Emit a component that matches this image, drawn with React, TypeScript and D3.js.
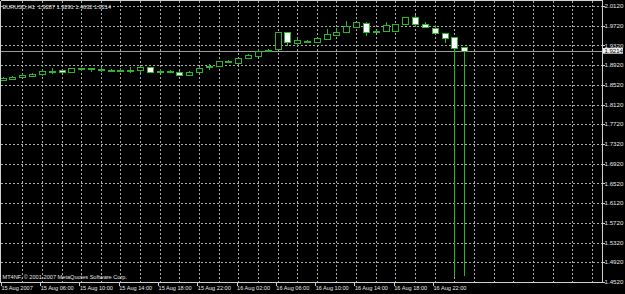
import React from "react";
import * as d3 from "d3";

const opens = [1.8609, 1.8630, 1.8670, 1.8701, 1.8731, 1.8792, 1.8812, 1.8782, 1.8843, 1.8847, 1.8843, 1.8806, 1.8812, 1.8816, 1.8822, 1.8873, 1.8798, 1.8798, 1.8782, 1.8711, 1.8782, 1.8883, 1.8904, 1.8985, 1.8964, 1.9056, 1.9106, 1.9218, 1.9238, 1.9583, 1.9370, 1.9415, 1.9380, 1.9451, 1.9533, 1.9583, 1.9695, 1.9782, 1.9608, 1.9614, 1.9620, 1.9750, 1.9892, 1.9750, 1.9681, 1.9567, 1.9486, 1.9287];
const highs = [1.8680, 1.8690, 1.8731, 1.8751, 1.8812, 1.8853, 1.8822, 1.8863, 1.8857, 1.8857, 1.8883, 1.8832, 1.8853, 1.8873, 1.8904, 1.8883, 1.8832, 1.8812, 1.8792, 1.8792, 1.8873, 1.8934, 1.9005, 1.9015, 1.9066, 1.9137, 1.9218, 1.9238, 1.9594, 1.9594, 1.9462, 1.9425, 1.9472, 1.9654, 1.9665, 1.9807, 1.9796, 1.9786, 1.9634, 1.9786, 1.9756, 1.9898, 1.9939, 1.9803, 1.9736, 1.9573, 1.9492, 1.9291];
const lows = [1.8599, 1.8609, 1.8660, 1.8670, 1.8701, 1.8741, 1.8772, 1.8772, 1.8792, 1.8782, 1.8782, 1.8792, 1.8772, 1.8761, 1.8761, 1.8751, 1.8761, 1.8761, 1.8701, 1.8701, 1.8761, 1.8822, 1.8893, 1.8964, 1.8924, 1.9046, 1.9096, 1.9188, 1.9228, 1.9299, 1.9299, 1.9401, 1.9370, 1.9441, 1.9522, 1.9573, 1.9685, 1.9502, 1.9583, 1.9604, 1.9614, 1.9746, 1.9689, 1.9685, 1.9543, 1.9370, 1.4625, 1.4632];
const closes = [1.8650, 1.8670, 1.8711, 1.8741, 1.8792, 1.8802, 1.8782, 1.8853, 1.8853, 1.8853, 1.8849, 1.8816, 1.8806, 1.8826, 1.8873, 1.8772, 1.8806, 1.8806, 1.8711, 1.8782, 1.8853, 1.8893, 1.8995, 1.8995, 1.9056, 1.9127, 1.9208, 1.9228, 1.9583, 1.9391, 1.9431, 1.9407, 1.9462, 1.9553, 1.9600, 1.9721, 1.9786, 1.9594, 1.9620, 1.9725, 1.9750, 1.9892, 1.9756, 1.9689, 1.9579, 1.9478, 1.9275, 1.9214];

const timeLabels = ["15 Aug 2007", "15 Aug 06:00", "15 Aug 10:00", "15 Aug 14:00", "15 Aug 18:00", "15 Aug 22:00", "16 Aug 02:00", "16 Aug 06:00", "16 Aug 10:00", "16 Aug 14:00", "16 Aug 18:00", "16 Aug 22:00"];
const timeLabelBars = [0, 4, 8, 12, 16, 20, 24, 28, 32, 36, 40, 44];
const priceTickLabels = ["1.4520", "1.4920", "1.5320", "1.5720", "1.6120", "1.6520", "1.6920", "1.7320", "1.7720", "1.8120", "1.8520", "1.8920", "1.9320", "1.9720", "2.0120"];
const headerText = "EURUSD,H1  1.9287 1.9291 1.4632 1.9214";
const copyrightText = "MT4NF, \u00a9 2001-2007 MetaQuotes Software Corp.";
const bidPrice = 1.9214;
const bidLabel = "1.9214";

const W = 625;
const H = 294;
const RIGHT = 602;
const BOTTOM = 282;

export default function App() {
  const x = d3.scaleLinear().domain([0, 60]).range([2.6, 2.6 + 60 * 9.82]);
  const y = d3.scaleLinear().domain([1.452, 2.012]).range([BOTTOM, 6]);
  const font = "'Liberation Sans', Arial, sans-serif";
  const txt = "#e6e6e6";
  const green = "#2cb52c";
  const gridColor = "#ababab";
  const vGrid = d3.range(2, 61, 2).filter((i) => x(i) < RIGHT - 2);
  const py = (v: number) => Math.round(y(v)) + 0.5;
  const px = (i: number) => Math.round(x(i)) + 0.5;

  return (
    <div style={{ position: "fixed", left: 0, top: 0 }}>
      <svg width={W} height={H} style={{ display: "block", background: "#000" }}>
        <rect x={0} y={0} width={W} height={H} fill="#000" />
        {priceTickLabels.map((t) => (
          <line key={"h" + t} x1={1} x2={RIGHT} y1={py(+t)} y2={py(+t)} stroke={gridColor} strokeDasharray="2,2" shapeRendering="crispEdges" />
        ))}
        {vGrid.map((i) => (
          <line key={"v" + i} x1={px(i)} x2={px(i)} y1={1} y2={BOTTOM} stroke={gridColor} strokeDasharray="2,2" shapeRendering="crispEdges" />
        ))}
        <line x1={1} x2={RIGHT} y1={py(bidPrice)} y2={py(bidPrice)} stroke="#9a9a9a" shapeRendering="crispEdges" />
        {opens.map((o, i) => {
          const c = closes[i];
          const cx = px(i);
          const bull = c >= o;
          const top = Math.round(y(Math.max(o, c)));
          const bot = Math.round(y(Math.min(o, c)));
          const h = Math.max(1, bot - top);
          return (
            <g key={"c" + i}>
              <line x1={cx} x2={cx} y1={y(highs[i])} y2={y(lows[i])} stroke={green} strokeWidth={1} shapeRendering="crispEdges" />
              <rect x={cx - 3} y={top + 0.5} width={6} height={h} fill={bull ? "#000" : "#fff"} stroke={green} strokeWidth={1} shapeRendering="crispEdges" />
            </g>
          );
        })}
        <line x1={0.5} x2={RIGHT + 0.5} y1={0.5} y2={0.5} stroke="#d0d0d0" shapeRendering="crispEdges" />
        <line x1={0.5} x2={0.5} y1={0.5} y2={BOTTOM + 0.5} stroke="#d0d0d0" shapeRendering="crispEdges" />
        <line x1={RIGHT + 0.5} x2={RIGHT + 0.5} y1={0.5} y2={BOTTOM + 0.5} stroke="#d0d0d0" shapeRendering="crispEdges" />
        <line x1={0.5} x2={RIGHT + 0.5} y1={BOTTOM + 0.5} y2={BOTTOM + 0.5} stroke="#d0d0d0" shapeRendering="crispEdges" />
        {priceTickLabels.map((t) => (
          <g key={"r" + t}>
            <line x1={RIGHT} x2={RIGHT + 3} y1={py(+t)} y2={py(+t)} stroke="#d0d0d0" shapeRendering="crispEdges" />
            <text x={RIGHT + 2.5} y={y(+t) + 2.1} fill={txt} fontSize={6.2} fontFamily={font}>{t}</text>
          </g>
        ))}
        <rect x={RIGHT + 1} y={y(bidPrice) - 2.6} width={20} height={5.6} fill="#f4f4f4" />
        <text x={RIGHT + 2.5} y={y(bidPrice) + 2.2} fill="#000" fontSize={6} fontFamily={font}>{bidLabel}</text>
        {timeLabelBars.map((b, k) => (
          <g key={"t" + b}>
            <line x1={Math.round(x(b) - 1.7) + 0.5} x2={Math.round(x(b) - 1.7) + 0.5} y1={BOTTOM} y2={BOTTOM + 4} stroke="#d0d0d0" shapeRendering="crispEdges" />
            <text x={x(b) - 1.2} y={290} fill={txt} fontSize={5.6} fontFamily={font}>{timeLabels[k]}</text>
          </g>
        ))}
        <text x={2.5} y={8.5} fill={txt} fontSize={5.6} fontFamily={font} style={{ whiteSpace: "pre" }}>{headerText}</text>
        <text x={2.5} y={278.5} fill={txt} fontSize={5.6} fontFamily={font}>{copyrightText}</text>
      </svg>
    </div>
  );
}
